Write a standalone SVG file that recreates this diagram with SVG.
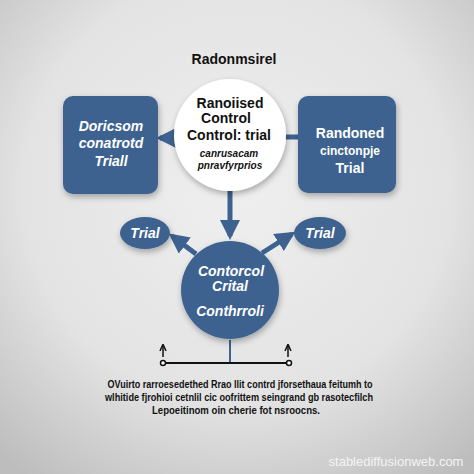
<svg xmlns="http://www.w3.org/2000/svg" width="474" height="474" viewBox="0 0 474 474">
<defs>
<radialGradient id="bg" cx="0.5" cy="0.4" r="0.75">
<stop offset="0" stop-color="#efefef"/>
<stop offset="0.6" stop-color="#e3e3e3"/>
<stop offset="1" stop-color="#bdbdbd"/>
</radialGradient>
<filter id="sh" x="-20%" y="-20%" width="140%" height="150%">
<feDropShadow dx="1" dy="3" stdDeviation="3" flood-color="#000" flood-opacity="0.3"/>
</filter>
<marker id="ah" viewBox="0 0 10 10" refX="8" refY="5" markerWidth="4" markerHeight="4" orient="auto-start-reverse">
<path d="M0,0 L10,5 L0,10 Z" fill="#3d6290"/>
</marker>
<marker id="ak" viewBox="0 0 10 10" refX="8" refY="5" markerWidth="5" markerHeight="5" orient="auto">
<path d="M0,1 L9,5 L0,9" fill="none" stroke="#111" stroke-width="2"/>
</marker>
</defs>
<style>
.node{fill:#3d6290;}
.wt{fill:#fff;font-family:"Liberation Sans",Arial,sans-serif;font-weight:bold;text-anchor:middle;}
.bt{fill:#111;font-family:"Liberation Sans",Arial,sans-serif;font-weight:bold;text-anchor:middle;}
.con{stroke:#3d6290;stroke-width:5;fill:none;}
</style>
<rect width="474" height="474" fill="url(#bg)"/>
<text class="bt" x="234" y="64" font-size="14">Radonmsirel</text>

<g id="connectors">
<line class="con" x1="176" y1="138" x2="160" y2="138" marker-end="url(#ah)"/>
<line class="con" x1="285" y1="137" x2="298" y2="137"/>
<line class="con" x1="230" y1="190" x2="230" y2="236" marker-end="url(#ah)"/>
<line class="con" x1="196" y1="254" x2="172" y2="236" marker-end="url(#ah)"/>
<line class="con" x1="262" y1="253" x2="292" y2="234" marker-end="url(#ah)"/>
<line x1="230" y1="340" x2="230" y2="363" stroke="#3d6290" stroke-width="2"/>
<line x1="163" y1="363" x2="289" y2="363" stroke="#111" stroke-width="2"/>
<circle cx="163" cy="363" r="2.5" fill="#fff" stroke="#111" stroke-width="1.5"/>
<circle cx="289" cy="363" r="2.5" fill="#fff" stroke="#111" stroke-width="1.5"/>
<line x1="163" y1="357" x2="163" y2="345" stroke="#111" stroke-width="1.5" marker-end="url(#ak)"/>
<line x1="288" y1="357" x2="288" y2="345" stroke="#111" stroke-width="1.5" marker-end="url(#ak)"/>
</g>

<g id="left-box">
<rect class="node" x="63" y="96" width="95" height="98" rx="10" filter="url(#sh)"/>
<text class="wt" font-style="italic" font-size="14" x="111" y="131">Doricsom</text>
<text class="wt" font-style="italic" font-size="14" x="111" y="148">conatrotd</text>
<text class="wt" font-style="italic" font-size="14" x="111" y="166">Triall</text>
</g>

<g id="right-box">
<rect class="node" x="298" y="96" width="98" height="97" rx="10" filter="url(#sh)"/>
<text class="wt" font-size="14" x="350" y="138">Randoned</text>
<text class="wt" font-size="12" font-weight="normal" x="350" y="155">cinctonpje</text>
<text class="wt" font-size="14" x="350" y="173">Trial</text>
</g>

<g id="top-circle">
<circle cx="230" cy="135" r="56" fill="#fff" filter="url(#sh)"/>
<text class="bt" font-size="14" x="230" y="108">Ranoiised</text>
<text class="bt" font-size="14" x="226" y="123">Control</text>
<text class="bt" font-size="14" x="229" y="140">Control: trial</text>
<text class="bt" font-size="10" font-style="italic" x="229" y="157">canrusacam</text>
<text class="bt" font-size="10" font-style="italic" x="230" y="169">pnravfyrprios</text>
</g>

<g id="trial-left">
<ellipse class="node" cx="145" cy="233" rx="25" ry="16" filter="url(#sh)"/>
<text class="wt" font-style="italic" font-size="14" x="145" y="238">Trial</text>
</g>

<g id="trial-right">
<ellipse class="node" cx="320" cy="233" rx="26" ry="16" filter="url(#sh)"/>
<text class="wt" font-style="italic" font-size="14" x="320" y="238">Trial</text>
</g>

<g id="center-circle">
<circle class="node" cx="230" cy="290" r="49" filter="url(#sh)"/>
<text class="wt" font-style="italic" font-size="14" x="231" y="276">Contorcol</text>
<text class="wt" font-style="italic" font-size="14" x="230" y="291">Crital</text>
<text class="wt" font-style="italic" font-size="14" x="230" y="316">Conthrroli</text>
</g>

<g id="caption">
<text class="bt" font-size="10" x="240" y="388" textLength="265" lengthAdjust="spacingAndGlyphs">OVuirto rarroesedethed Rrao llit contrd jforsethaua feitumh to</text>
<text class="bt" font-size="10" x="239" y="401" textLength="268" lengthAdjust="spacingAndGlyphs">wlhitide fjrohioi cetnlil cic oofrittem seingrand gb rasotecfilch</text>
<text class="bt" font-size="10" x="236" y="414" textLength="168" lengthAdjust="spacingAndGlyphs">Lepoeitinom oin cherie fot nsroocns.</text>
</g>

<text x="396" y="466" font-family="Liberation Sans,Arial,sans-serif" font-size="13" fill="#f4f4f4" text-anchor="middle">stablediffusionweb.com</text>
</svg>
